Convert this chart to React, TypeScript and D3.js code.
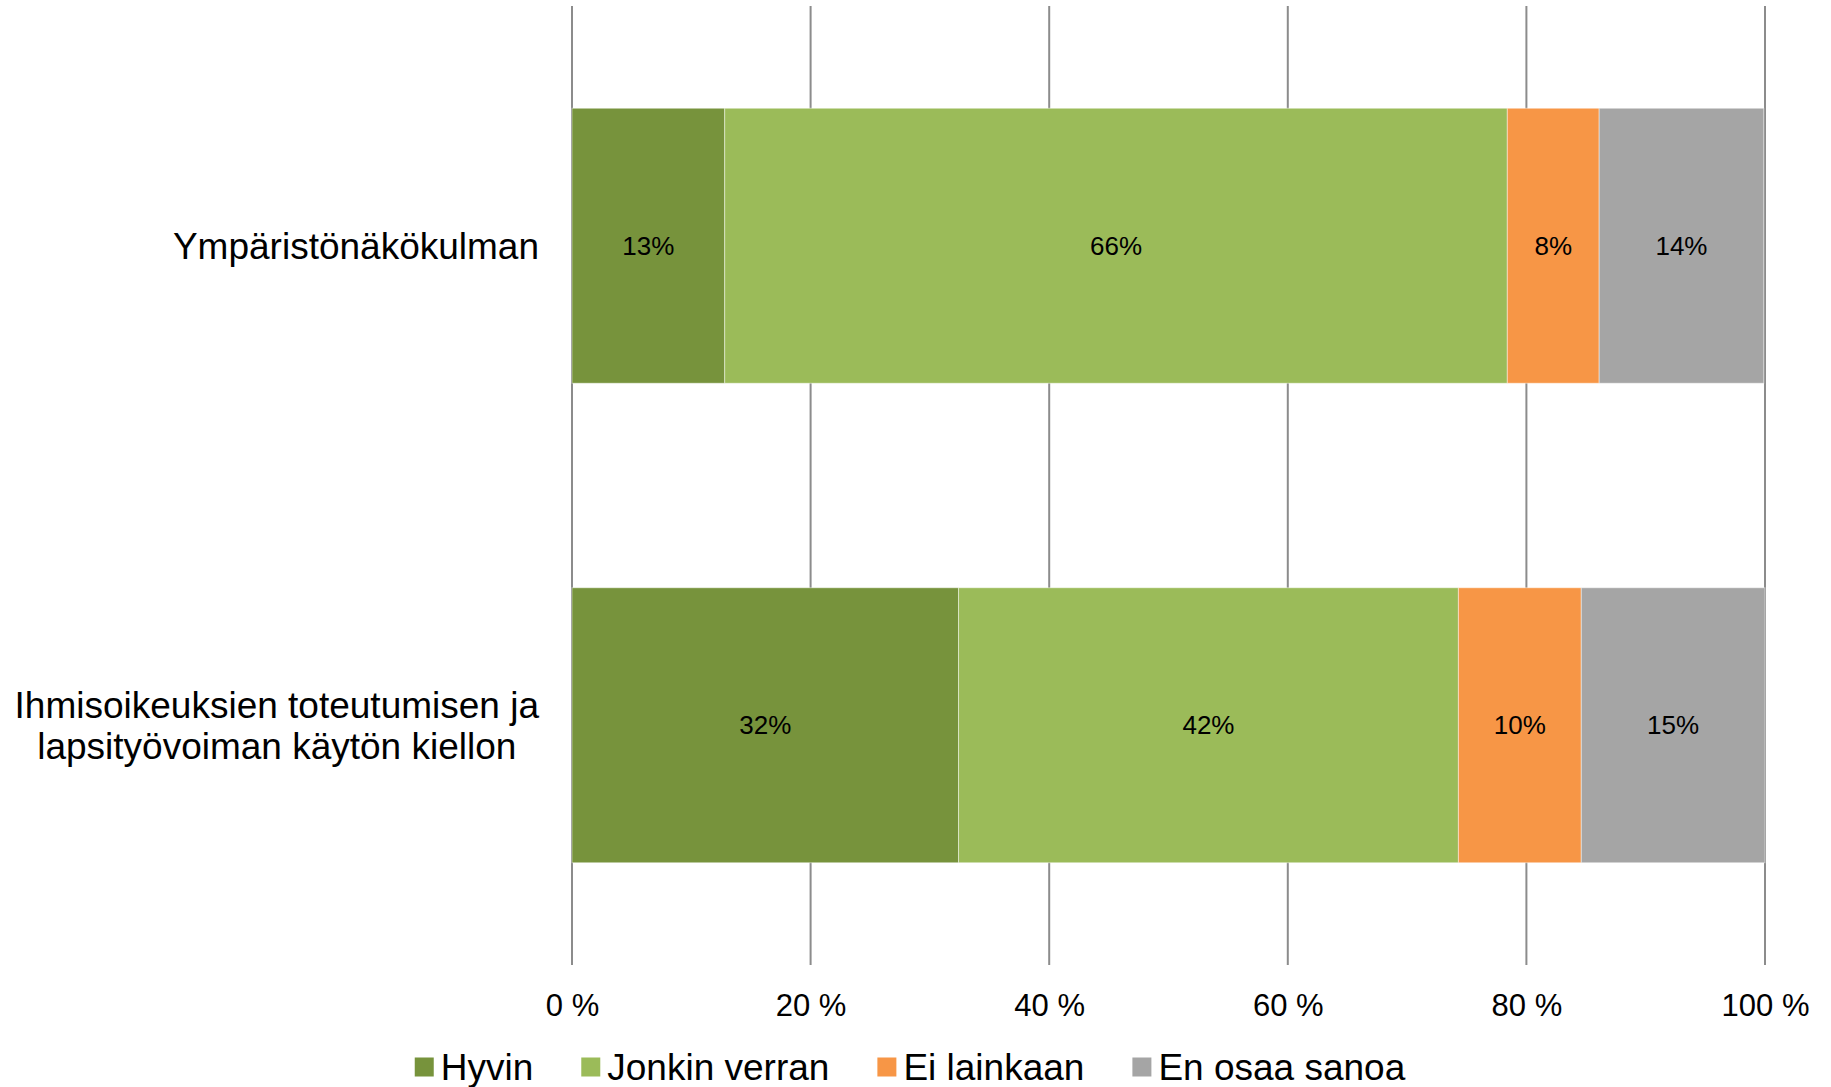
import React, { useEffect, useRef } from "react";
import * as d3 from "d3";

const categories = [
  "Ympäristönäkökulman",
  "Ihmisoikeuksien toteutumisen ja\nlapsityövoiman käytön kiellon",
];
const seriesNames = ["Hyvin", "Jonkin verran", "Ei lainkaan", "En osaa sanoa"];
const hyvin = [12.8, 32.4];
const jonkinVerran = [65.6, 41.9];
const eiLainkaan = [7.7, 10.3];
const enOsaaSanoa = [13.8, 15.4];
const seriesColors = ["#77933C", "#9BBB59", "#F79646", "#A5A5A5"];
const xTicks = [0, 20, 40, 60, 80, 100];

const W = 1831;
const H = 1087;
const FONT = "'Liberation Sans', Arial, Helvetica, sans-serif";

export default function App() {
  const ref = useRef<SVGSVGElement | null>(null);

  useEffect(() => {
    document.body.style.margin = "0";
    const svg = d3.select(ref.current!);
    svg.selectAll("*").remove();

    const left = 572;
    const right = 1765;
    const top = 6;
    const bottom = 965;

    const x = d3.scaleLinear().domain([0, 100]).range([left, right]);
    const y = d3
      .scaleBand<string>()
      .domain(categories)
      .range([top, bottom])
      .paddingInner(0.4265)
      .paddingOuter(0.21325);

    const seriesVals = [hyvin, jonkinVerran, eiLainkaan, enOsaaSanoa];
    const rows = categories.map((c, i) => {
      const r: any = { cat: c };
      seriesNames.forEach((s, j) => (r[s] = seriesVals[j][i]));
      return r;
    });
    const stacked = d3.stack<any>().keys(seriesNames)(rows);

    // gridlines
    svg
      .append("g")
      .selectAll("line")
      .data(xTicks)
      .join("line")
      .attr("x1", (d) => x(d))
      .attr("x2", (d) => x(d))
      .attr("y1", top)
      .attr("y2", bottom)
      .attr("stroke", "#8C8C8C")
      .attr("stroke-width", 2);

    // bars
    const g = svg.append("g");
    stacked.forEach((layer, li) => {
      g.append("g")
        .selectAll("rect")
        .data(layer)
        .join("rect")
        .attr("x", (d) => x(d[0]))
        .attr("width", (d) => x(d[1]) - x(d[0]))
        .attr("y", (d) => y(d.data.cat)!)
        .attr("height", y.bandwidth())
        .attr("fill", seriesColors[li])
        .attr("stroke", "rgba(255,255,255,0.45)")
        .attr("stroke-width", 1);
    });

    // data labels
    stacked.forEach((layer) => {
      g.append("g")
        .selectAll("text")
        .data(layer)
        .join("text")
        .attr("x", (d) => (x(d[0]) + x(d[1])) / 2)
        .attr("y", (d) => y(d.data.cat)! + y.bandwidth() / 2 + 9)
        .attr("text-anchor", "middle")
        .attr("font-family", FONT)
        .attr("font-size", 26)
        .attr("fill", "#000")
        .text((d) => `${Math.round(d[1] - d[0])}%`);
    });

    // x axis tick labels
    const axis = d3
      .axisBottom(x)
      .tickValues(xTicks)
      .tickSize(0)
      .tickPadding(0)
      .tickFormat((d) => `${d} %`);
    const ag = svg
      .append("g")
      .attr("transform", `translate(0, 994)`)
      .call(axis as any);
    ag.select(".domain").remove();
    ag.selectAll("text")
      .attr("font-family", FONT)
      .attr("font-size", 31)
      .attr("fill", "#000")
      .attr("dy", "0.71em");

    // category labels
    const labelRight = 539;
    const lineH = 41;
    categories.forEach((c) => {
      const lines = c.split("\n");
      const cy = y(c)! + y.bandwidth() / 2;
      const tg = svg.append("g");
      const texts = lines.map((ln, i) =>
        tg
          .append("text")
          .attr("font-family", FONT)
          .attr("font-size", 37)
          .attr("fill", "#000")
          .attr("text-anchor", "middle")
          .attr("y", cy + (i - (lines.length - 1) / 2) * lineH + 13)
          .text(ln)
      );
      const widths = texts.map((t) => (t.node() as SVGTextElement).getComputedTextLength());
      const maxW = d3.max(widths) || 0;
      texts.forEach((t) => t.attr("x", labelRight - maxW / 2));
    });

    // legend
    const lg = svg.append("g");
    const items: { w: number }[] = [];
    const mSize = 19;
    const gapMT = 7;
    const gapItem = 48;
    const legendY = 1067;
    let cursor = 0;
    const nodes = seriesNames.map((s, i) => {
      const ig = lg.append("g");
      ig.append("rect")
        .attr("width", mSize)
        .attr("height", mSize)
        .attr("y", legendY - mSize / 2)
        .attr("fill", seriesColors[i]);
      const t = ig
        .append("text")
        .attr("x", mSize + gapMT)
        .attr("y", legendY + 13)
        .attr("font-family", FONT)
        .attr("font-size", 37)
        .attr("fill", "#000")
        .text(s);
      const tw = (t.node() as SVGTextElement).getComputedTextLength();
      items.push({ w: mSize + gapMT + tw });
      return ig;
    });
    const total = d3.sum(items, (d) => d.w) + gapItem * (items.length - 1);
    const startX = 910 - total / 2;
    cursor = startX;
    nodes.forEach((n, i) => {
      n.attr("transform", `translate(${cursor},0)`);
      cursor += items[i].w + gapItem;
    });
  }, []);

  return (
    <svg
      ref={ref}
      width={W}
      height={H}
      viewBox={`0 0 ${W} ${H}`}
      style={{ display: "block", background: "#fff" }}
    />
  );
}
